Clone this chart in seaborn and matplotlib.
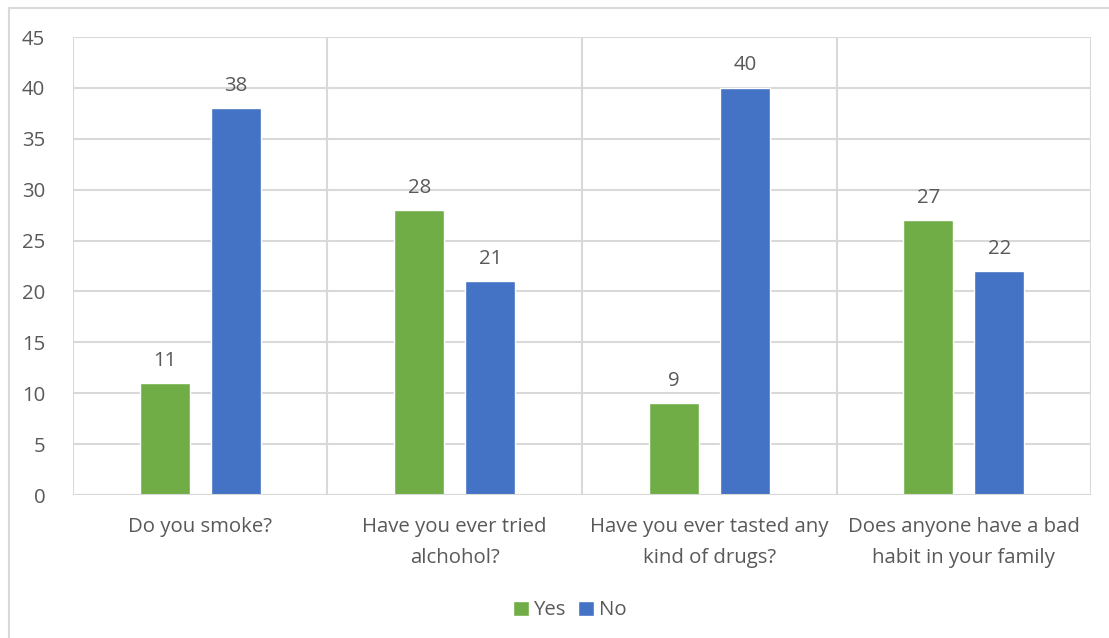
import matplotlib
matplotlib.use("Agg")
import matplotlib.pyplot as plt
from matplotlib.patches import Rectangle
import seaborn as sns
import pandas as pd

questions = [
    "Do you smoke?",
    "Have you ever tried\nalchohol?",
    "Have you ever tasted any\nkind of drugs?",
    "Does anyone have a bad\nhabit in your family",
]
yes_counts = [11, 28, 9, 27]
no_counts = [38, 21, 40, 22]
answers = ["Yes", "No"]
palette = {"Yes": "#70AD47", "No": "#4472C4"}
y_ticks = [0, 5, 10, 15, 20, 25, 30, 35, 40, 45]

df = pd.DataFrame({
    "question": questions * 2,
    "answer": ["Yes"] * len(questions) + ["No"] * len(questions),
    "count": yes_counts + no_counts,
})

sns.set_theme(style="white")
plt.rcParams["font.family"] = ["Open Sans", "DejaVu Sans"]
text_color = "#595959"
grid_color = "#D9D9D9"
fs = 14.7

fig = plt.figure(figsize=(11.09, 6.38), dpi=100)
ax = fig.add_axes([0.0658, 0.2241, 0.9180, 0.7179])

# outer chart frame (only top and left edges fall inside the canvas)
fig.patches.append(Rectangle((9 / 1109, -0.05), 1.2, 1 - 8 / 638 + 0.05,
                             transform=fig.transFigure, fill=False,
                             edgecolor=grid_color, linewidth=1.5, zorder=0))

sns.barplot(data=df, x="question", y="count", hue="answer", order=questions,
            hue_order=answers, palette=palette, width=0.558, gap=0.3,
            saturation=1, ax=ax, legend=True, zorder=3)

for container in ax.containers:
    ax.bar_label(container, padding=9, fontsize=fs, color=text_color)

ax.set_ylim(0, 45)
ax.set_xlim(-0.5, len(questions) - 0.5)
ax.set_yticks(y_ticks)
ax.yaxis.grid(True, color=grid_color, linewidth=1.5, zorder=0)
for xb in [i - 0.5 for i in range(len(questions) + 1)]:
    ax.axvline(xb, color=grid_color, linewidth=1.5, zorder=1)
for side in ax.spines.values():
    side.set_visible(False)
ax.axhline(0, color=grid_color, linewidth=1.5, zorder=4)

ax.set_xlabel("")
ax.set_ylabel("")
ax.tick_params(axis="y", length=0, pad=20, labelsize=fs, labelcolor=text_color)
ax.tick_params(axis="x", length=0, pad=16, labelsize=fs, labelcolor=text_color)
for lbl in ax.get_xticklabels():
    lbl.set_linespacing(1.75)

leg = ax.legend(loc="center", bbox_to_anchor=(0.488, -0.252), ncol=2,
                frameon=False, fontsize=fs, handlelength=0.75, handleheight=0.75,
                handletextpad=0.25, columnspacing=0.6, labelcolor=text_color)

fig.savefig("out.png", dpi=100)
